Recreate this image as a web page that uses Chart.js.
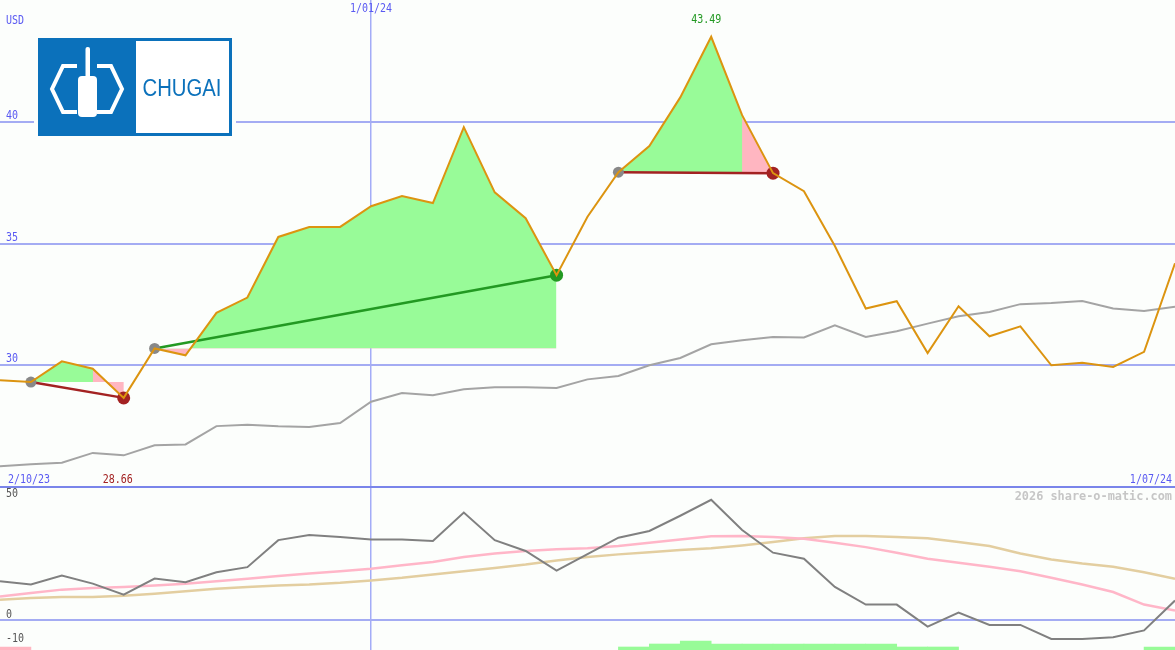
<!DOCTYPE html>
<html>
<head>
<meta charset="utf-8">
<title>CHUGAI</title>
<script src="https://cdn.jsdelivr.net/npm/chart.js@4.4.0/dist/chart.umd.min.js"></script>
<style>
  html, body { margin: 0; padding: 0; background: #fcfefc; }
  #wrap { width: 1175px; height: 650px; }
</style>
</head>
<body>
<div id="wrap"><canvas id="shareChart" width="1175" height="650"></canvas></div>
<script>
// weekly closes, USD
var dates = ['2/10/23', '9/10/23', '16/10/23', '23/10/23', '30/10/23', '6/11/23', '13/11/23', '20/11/23',
             '27/11/23', '4/12/23', '11/12/23', '18/12/23', '1/01/24', '8/01/24', '15/01/24', '22/01/24',
             '29/01/24', '5/02/24', '12/02/24', '19/02/24', '26/02/24', '4/03/24', '11/03/24', '18/03/24',
             '25/03/24', '1/04/24', '8/04/24', '15/04/24', '22/04/24', '29/04/24', '6/05/24', '13/05/24',
             '20/05/24', '27/05/24', '3/06/24', '10/06/24', '17/06/24', '24/06/24', '1/07/24'];
var price = [29.38, 29.31, 30.16, 29.86, 28.66, 30.69, 30.41, 32.15, 32.78, 35.27, 35.68, 35.68, 36.53,
             36.95, 36.66, 39.78, 37.10, 36.04, 33.70, 36.10, 37.93, 39.00, 41.00, 43.49, 40.27, 37.89,
             37.15, 34.90, 32.33, 32.63, 30.50, 32.42, 31.19, 31.60, 30.00, 30.10, 29.93, 30.55, 34.19];
var priceAvg = [25.85, 25.93, 26.00, 26.40, 26.30, 26.71, 26.75, 27.50, 27.56, 27.49, 27.46, 27.63, 28.50,
                28.86, 28.77, 29.01, 29.10, 29.10, 29.07, 29.42, 29.56, 30.00, 30.30, 30.86, 31.03, 31.16,
                31.14, 31.64, 31.16, 31.40, 31.71, 32.01, 32.19, 32.51, 32.56, 32.64, 32.33, 32.23, 32.40];
// lower panel
var oscFast = [16.0, 14.6, 18.3, 15.0, 10.4, 17.1, 15.6, 19.7, 21.8, 33.0, 35.1, 34.3, 33.3,
               33.3, 32.6, 44.4, 33.0, 28.5, 20.4, 27.2, 34.0, 36.8, 43.1, 49.7, 37.2, 27.8,
               25.3, 13.6, 6.3, 6.3, -2.8, 3.0, -2.1, -2.1, -7.9, -7.9, -7.2, -4.4, 8.0];
var oscSlow = [9.7, 11.1, 12.5, 13.2, 13.6, 14.2, 14.9, 16.0, 17.0, 18.1, 19.2, 20.1, 21.1,
               22.6, 23.9, 26.0, 27.5, 28.5, 29.2, 29.6, 30.6, 31.9, 33.3, 34.6, 34.7, 34.3,
               33.6, 31.9, 30.1, 27.8, 25.3, 23.6, 22.0, 20.1, 17.4, 14.6, 11.5, 6.3, 3.9];
var oscLong = [8.3, 9.0, 9.4, 9.4, 10.0, 10.8, 11.8, 12.9, 13.6, 14.2, 14.6, 15.3, 16.3,
               17.4, 18.8, 20.1, 21.5, 22.9, 24.6, 26.0, 27.1, 28.0, 28.9, 29.6, 30.8, 32.2,
               33.8, 34.7, 34.7, 34.3, 33.8, 32.2, 30.6, 27.5, 25.0, 23.3, 22.0, 19.7, 17.0];
// strength between week i and i+1 (+ buy, - sell)
var strength = [-1, 0, 0, 0, 0, 0, 0, 0, 0, 0,
                0, 0, 0, 0, 0, 0, 0, 0, 0, 0,
                1, 2, 3, 2, 2, 2, 2, 2, 2, 1,
                1, 0, 0, 0, 0, 0, 0, 1];
var tradeIn = [1, 5, 20];
var tradeOut = [4, 18, 25];
var markDate = '1/01/24';
var priceTicks = [30, 35, 40];
var oscTicks = [50, 0, -10];

var BG = '#fcfefc';
var GRID = '#a4acf3';
var SEP = '#7a85ea';
var AXIS_TXT = '#5a5af2';
var ORANGE = '#dc9410';
var AVG = '#a4a4a4';
var UP = '#229922';
var DOWN = '#a32222';
var ENTRY = '#888888';
var FILL_UP = '#98fb98';
var FILL_DOWN = '#ffb6c1';

function pts(arr, from, to) {
    var out = [];
    for (var i = from; i <= to; i++) {
        out.push({x: i, y: arr[i]});
    }
    return out;
}

var datasets = [];

datasets.push({
    label: 'strength', type: 'bar', yAxisID: 'y3', order: 20,
    data: strength.map(function(s, i) { return {x: i + 0.5, y: s === 0 ? null : Math.abs(s)}; }),
    backgroundColor: strength.map(function(s) { return s < 0 ? FILL_DOWN : FILL_UP; }),
    borderWidth: 0, categoryPercentage: 1, barPercentage: 1
});

tradeIn.forEach(function(a, t) {
    var b = tradeOut[t];
    var win = price[b] > price[a];
    datasets.push({
        label: 'fill' + t, yAxisID: 'y', order: 12,
        data: pts(price, a, b), borderWidth: 0, pointRadius: 0,
        fill: {target: {value: price[a]}, above: FILL_UP, below: FILL_DOWN}
    });
    if (!win) {
        datasets.push({
            label: 'loss' + t, yAxisID: 'y', order: 11,
            data: pts(price, b - 1, b), borderWidth: 0, pointRadius: 0,
            fill: {target: {value: price[a]}, above: FILL_DOWN, below: FILL_DOWN}
        });
    }
    datasets.push({
        label: 'trade' + t, yAxisID: 'y', order: 4,
        data: [{x: a, y: price[a]}, {x: b, y: price[b]}],
        borderColor: win ? UP : DOWN, borderWidth: 2.5,
        pointRadius: [5.5, 6.5], pointBorderWidth: 0,
        pointBackgroundColor: [ENTRY, win ? UP : DOWN]
    });
});

datasets.push({label: 'avg', yAxisID: 'y', order: 6, data: pts(priceAvg, 0, priceAvg.length - 1),
    borderColor: AVG, borderWidth: 2, pointRadius: 0});
datasets.push({label: 'price', yAxisID: 'y', order: 2, data: pts(price, 0, price.length - 1),
    borderColor: ORANGE, borderWidth: 2, pointRadius: 0});
datasets.push({label: 'oscLong', yAxisID: 'y2', order: 8, data: pts(oscLong, 0, oscLong.length - 1),
    borderColor: '#e3cea0', borderWidth: 2.5, pointRadius: 0});
datasets.push({label: 'oscSlow', yAxisID: 'y2', order: 7, data: pts(oscSlow, 0, oscSlow.length - 1),
    borderColor: '#ffb6c8', borderWidth: 2.5, pointRadius: 0});
datasets.push({label: 'oscFast', yAxisID: 'y2', order: 5, data: pts(oscFast, 0, oscFast.length - 1),
    borderColor: '#808080', borderWidth: 2, pointRadius: 0});

function txt(ctx, str, x, y, color, align, bold, sx) {
    ctx.save();
    ctx.font = (bold ? 'bold ' : '') + '12.5px "DejaVu Sans Mono", monospace';
    ctx.fillStyle = color;
    ctx.textAlign = align || 'left';
    ctx.textBaseline = 'alphabetic';
    ctx.translate(x, y);
    ctx.scale(sx || 0.8, 1);
    ctx.fillText(str, 0, 0);
    ctx.restore();
}

function drawLogo(ctx) {
    ctx.save();
    ctx.fillStyle = BG;
    ctx.fillRect(34, 34, 202, 106);
    ctx.fillStyle = '#0b71bb';
    ctx.fillRect(38, 38, 194, 98);
    ctx.fillStyle = '#ffffff';
    ctx.fillRect(136, 41, 93, 92);

    ctx.strokeStyle = '#ffffff';
    ctx.lineWidth = 4;
    ctx.beginPath();
    ctx.moveTo(77, 66); ctx.lineTo(63, 66); ctx.lineTo(52, 89); ctx.lineTo(63, 112); ctx.lineTo(77, 112);
    ctx.stroke();
    ctx.beginPath();
    ctx.moveTo(97, 66); ctx.lineTo(111, 66); ctx.lineTo(122, 89); ctx.lineTo(111, 112); ctx.lineTo(97, 112);
    ctx.stroke();

    ctx.beginPath();
    ctx.roundRect(78, 76, 19, 41, 4);
    ctx.fill();
    ctx.beginPath();
    ctx.roundRect(85.5, 47, 4.5, 32, 2);
    ctx.fill();

    ctx.fillStyle = '#0b71bb';
    ctx.font = '23px "Liberation Sans", Arial, sans-serif';
    ctx.textAlign = 'center';
    ctx.textBaseline = 'alphabetic';
    ctx.fillText('CHUGAI', 182, 96, 79);
    ctx.restore();
}

var overlay = {
    id: 'overlay',
    beforeDraw: function(chart) {
        var ctx = chart.ctx;
        ctx.save();
        ctx.fillStyle = BG;
        ctx.fillRect(0, 0, chart.width, chart.height);
        ctx.restore();
    },
    afterDraw: function(chart) {
        var ctx = chart.ctx, sx = chart.scales.x, sy = chart.scales.y, so = chart.scales.y2;
        var area = chart.chartArea;

        txt(ctx, 'USD', area.left + 6, sy.top + 24, AXIS_TXT);
        priceTicks.forEach(function(v) {
            txt(ctx, String(v), area.left + 6, sy.getPixelForValue(v) - 3, AXIS_TXT);
        });
        txt(ctx, dates[0], area.left + 8, sy.bottom - 4, AXIS_TXT);
        txt(ctx, dates[dates.length - 1], area.right - 3, sy.bottom - 4, AXIS_TXT, 'right');
        txt(ctx, markDate, sx.getPixelForValue(dates.indexOf(markDate)), sy.top + 12, AXIS_TXT, 'center');

        oscTicks.forEach(function(v) {
            txt(ctx, String(v), area.left + 6, so.getPixelForValue(v) - 2, '#555555');
        });
        txt(ctx, '2026 share-o-matic.com', area.right - 3, so.top + 13, '#c6c6c6', 'right', true, 0.95);

        var hi = price.indexOf(Math.max.apply(null, price));
        var lo = price.indexOf(Math.min.apply(null, price));
        txt(ctx, price[hi].toFixed(2), sx.getPixelForValue(hi) - 5, sy.getPixelForValue(price[hi]) - 14, UP, 'center');
        txt(ctx, price[lo].toFixed(2), sx.getPixelForValue(lo) - 6, sy.bottom - 4, DOWN, 'center');

        drawLogo(ctx);
    }
};

new Chart(document.getElementById('shareChart'), {
    type: 'line',
    data: {datasets: datasets},
    options: {
        responsive: false,
        animation: false,
        layout: {padding: 0, autoPadding: false},
        plugins: {legend: {display: false}, tooltip: {enabled: false}},
        elements: {line: {tension: 0}},
        scales: {
            x: {
                type: 'linear', min: 0, max: dates.length - 1, offset: false,
                border: {display: false},
                ticks: {display: false},
                grid: {offset: false, drawTicks: false, color: '#a3acf7', lineWidth: 1.5},
                afterBuildTicks: function(s) { s.ticks = [{value: dates.indexOf(markDate)}]; }
            },
            y: {
                type: 'linear', position: 'right', stack: 'panes', stackWeight: 487,
                min: 25, max: 45,
                border: {display: false},
                ticks: {display: false},
                grid: {drawTicks: false, lineWidth: 2,
                       color: function(c) { return c.tick && c.tick.value === 25 ? SEP : GRID; }},
                afterBuildTicks: function(s) {
                    s.ticks = [25].concat(priceTicks).map(function(v) { return {value: v}; });
                }
            },
            y2: {
                type: 'linear', position: 'right', stack: 'panes', stackWeight: 163,
                min: -12.5, max: 55,
                border: {display: false},
                ticks: {display: false},
                grid: {drawTicks: false, lineWidth: 2, color: GRID},
                afterBuildTicks: function(s) { s.ticks = [{value: 0}]; }
            },
            y3: {
                type: 'linear', position: 'right', display: false, min: 0, max: 216.7
            }
        }
    },
    plugins: [overlay]
});
</script>
</body>
</html>
